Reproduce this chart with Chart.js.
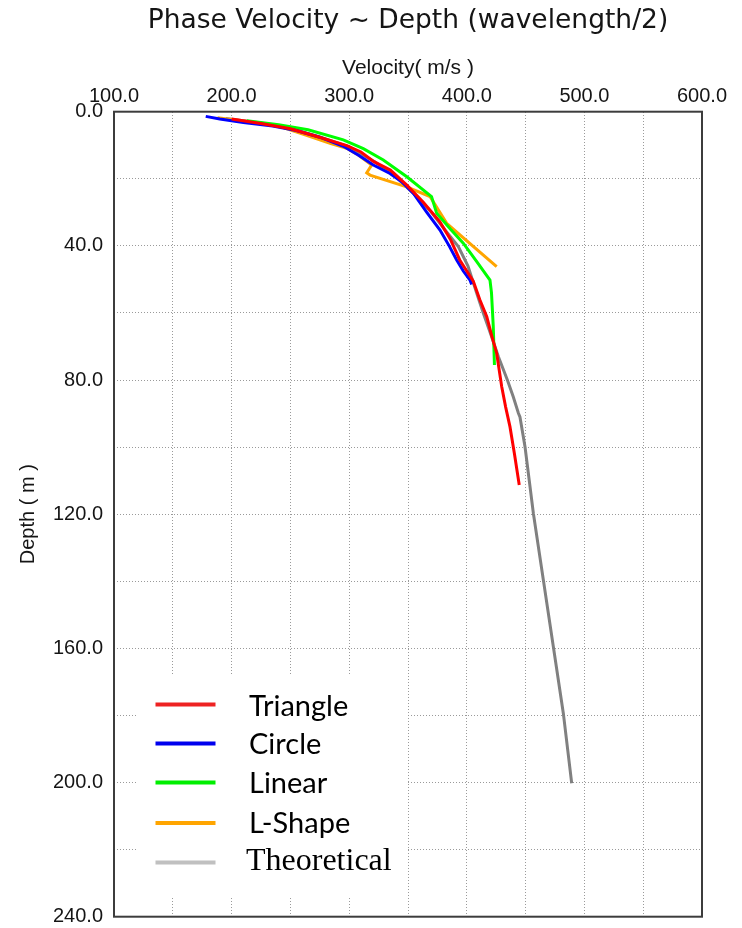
<!DOCTYPE html>
<html>
<head>
<meta charset="utf-8">
<script src="https://cdn.jsdelivr.net/npm/chart.js@4.4.0/dist/chart.umd.min.js"></script>
<style>
html,body{margin:0;padding:0;background:#ffffff;}
#wrap{width:742px;height:928px;position:relative;}
</style>
</head>
<body>
<div id="wrap"><canvas id="c" width="742" height="928"></canvas></div>
<script>
// ---- data (velocity m/s, depth m) ----
const chartTitle = 'Phase Velocity ~ Depth (wavelength/2)';
const xAxisTitle = 'Velocity( m/s )';
const yAxisTitle = 'Depth ( m )';
const seriesNames = ['Triangle', 'Circle', 'Linear', 'L-Shape', 'Theoretical'];

const triangleVelocity = [200, 225, 250, 272, 298, 310, 321, 335, 349, 363, 377, 386, 394, 405.5, 411, 417, 421, 425.4, 429.7, 433, 436.7, 440.5, 444.6];
const triangleDepth    = [2.2, 3.5, 5.1, 7.3, 10.1, 12.0, 14.9, 17.4, 21.9, 27, 32.8, 38, 44.2, 50.5, 56, 61.1, 66.5, 72, 82, 88, 93.9, 102, 111.3];

const circleVelocity = [178, 190, 210, 235, 255, 275, 295, 308, 320.5, 334.7, 345, 354.5, 366, 377.2, 385, 391.4, 397, 402.7, 404.1];
const circleDepth    = [1.4, 2.2, 3.2, 4.3, 5.6, 7.6, 10.3, 13, 15.9, 18.4, 21, 24.3, 30, 35.3, 40, 44.2, 47.5, 50.2, 51.5];

const linearVelocity = [213, 240, 265, 295, 312, 329, 349, 370, 374.4, 386, 397, 408, 419.7, 421, 422.5, 423.5];
const linearDepth    = [2.7, 3.9, 5.4, 8.4, 11, 14.4, 19.4, 25.3, 30.3, 35, 39.2, 44.5, 50.2, 54, 64, 75.5];

const lshapeVelocity = [188, 215, 240, 258, 270, 283.7, 297.9, 308, 319.1, 314.9, 317.7, 348.9, 368.7, 382.9, 425.4];
const lshapeDepth    = [1.8, 3.0, 4.3, 6.4, 7.8, 9.4, 10.9, 13, 15.9, 18.2, 18.9, 22.4, 25.3, 33.3, 46.2];

const theoryVelocity = [195, 225, 250, 275, 300, 322, 340, 355, 370, 382, 392.8, 401, 408.4, 414, 420, 426.8, 434.5, 439.5, 443.9, 445.2, 449.5, 456.6, 465.1, 473.6, 482.1, 489.2];
const theoryDepth    = [2, 3.4, 5.0, 7.5, 10.5, 15, 19.5, 24.5, 30, 35.5, 40.2, 46, 54.1, 60, 66, 73, 80, 85, 89.9, 91, 99.9, 119.7, 139.6, 159.5, 179.4, 200.2];

const xMin = 100, xMax = 600, xGridStep = 50, xLabelStep = 100;
const yMin = 0, yMax = 240, yGridStep = 20, yLabelStep = 40;

const lineColors   = ['#ff0000', '#0000ff', '#00ff00', '#ffa500', '#808080'];
const legendColors = ['#ee2222', '#0000ee', '#00ee00', '#ffa500', '#c0c0c0'];

function pts(vx, dy) { return vx.map((v, i) => ({x: v, y: dy[i]})); }

const seriesData = [
  pts(triangleVelocity, triangleDepth),
  pts(circleVelocity, circleDepth),
  pts(linearVelocity, linearDepth),
  pts(lshapeVelocity, lshapeDepth),
  pts(theoryVelocity, theoryDepth)
];

const frameColor = '#3c3c3c';
const gridColor = '#9a9a9a';
const textColor = '#151515';

const legendPlugin = {
  id: 'customLegend',
  afterDatasetsDraw(chart) {
    const ctx = chart.ctx;
    ctx.save();
    ctx.fillStyle = '#ffffff';
    ctx.fillRect(138, 676, 268, 222);
    const rowsLineY = [704.5, 743.5, 782.5, 823, 862.5];
    const rowsTextY = [706.5, 745, 783.5, 823.5, 862];
    for (let i = 0; i < seriesNames.length; i++) {
      ctx.strokeStyle = legendColors[i];
      ctx.lineWidth = 4;
      ctx.beginPath();
      ctx.moveTo(155.5, rowsLineY[i]);
      ctx.lineTo(215.5, rowsLineY[i]);
      ctx.stroke();
      ctx.fillStyle = '#000000';
      ctx.textBaseline = 'middle';
      ctx.textAlign = 'left';
      if (i === 4) {
        ctx.font = '32px "Liberation Serif"';
        ctx.fillText(seriesNames[i], 246, rowsTextY[i]);
      } else {
        ctx.font = '29px Lato';
        ctx.fillText(seriesNames[i], 249, rowsTextY[i]);
      }
    }
    ctx.restore();
  },
  afterDraw(chart) {
    const a = chart.chartArea;
    const ctx = chart.ctx;
    ctx.save();
    ctx.strokeStyle = frameColor;
    ctx.lineWidth = 2;
    ctx.strokeRect(a.left, a.top, a.right - a.left, a.bottom - a.top);
    ctx.restore();
  }
};

function build() {
  const datasets = seriesData.map((d, i) => ({
    label: seriesNames[i],
    data: d,
    showLine: true,
    borderColor: lineColors[i],
    backgroundColor: lineColors[i],
    borderWidth: 3,
    pointRadius: 0,
    pointHoverRadius: 0,
    tension: 0,
    fill: false
  }));

  new Chart(document.getElementById('c'), {
    type: 'scatter',
    data: { datasets },
    options: {
      responsive: false,
      devicePixelRatio: 1,
      animation: false,
      events: [],
      layout: { autoPadding: false, padding: { left: 0, right: 40, top: 0, bottom: 11.3 } },
      plugins: {
        legend: { display: false },
        tooltip: { enabled: false },
        title: {
          display: true,
          text: chartTitle,
          fullSize: false,
          color: textColor,
          font: { family: 'DejaVu Sans', size: 26.5, weight: 'normal' },
          padding: { top: 5, bottom: 0 }
        }
      },
      scales: {
        x: {
          type: 'linear',
          position: 'top',
          min: xMin, max: xMax,
          afterFit(scale) { scale.height = 74.9; },
          ticks: {
            stepSize: xGridStep,
            autoSkip: false,
            maxRotation: 0,
            padding: 3,
            color: textColor,
            font: { family: 'Liberation Sans', size: 20 },
            callback: (v) => (v % xLabelStep === 0 ? Number(v).toFixed(1) : '')
          },
          grid: {
            drawTicks: false,
            lineWidth: 1,
            color: (c) => (c.tick && (c.tick.value === xMin || c.tick.value === xMax)) ? 'rgba(0,0,0,0)' : gridColor
          },
          border: { display: false, dash: [1, 2] },
          title: {
            display: true,
            text: xAxisTitle,
            color: textColor,
            font: { family: 'Liberation Sans', size: 21 },
            padding: { top: 19, bottom: 0 }
          }
        },
        y: {
          type: 'linear',
          reverse: true,
          min: yMin, max: yMax,
          afterFit(scale) { scale.width = 114; scale.paddingTop = 0; scale.paddingBottom = 0; },
          ticks: {
            stepSize: yGridStep,
            autoSkip: false,
            padding: 11,
            color: textColor,
            font: { family: 'Liberation Sans', size: 20, lineHeight: 1 },
            callback: (v) => (v % yLabelStep === 0 ? Number(v).toFixed(1) : '')
          },
          grid: {
            drawTicks: false,
            lineWidth: 1,
            color: (c) => (c.tick && (c.tick.value === yMin || c.tick.value === yMax)) ? 'rgba(0,0,0,0)' : gridColor
          },
          border: { display: false, dash: [1, 2] },
          title: {
            display: true,
            text: yAxisTitle,
            color: textColor,
            font: { family: 'Liberation Sans', size: 20 },
            padding: { top: 16, bottom: 0 }
          }
        }
      }
    },
    plugins: [legendPlugin]
  });
}

const fontLoads = [
  '29px Lato', '32px "Liberation Serif"', '26px "DejaVu Sans"', '20px "Liberation Sans"'
].map(f => document.fonts.load(f).catch(() => null));
Promise.all(fontLoads).then(build, build);
</script>
</body>
</html>
